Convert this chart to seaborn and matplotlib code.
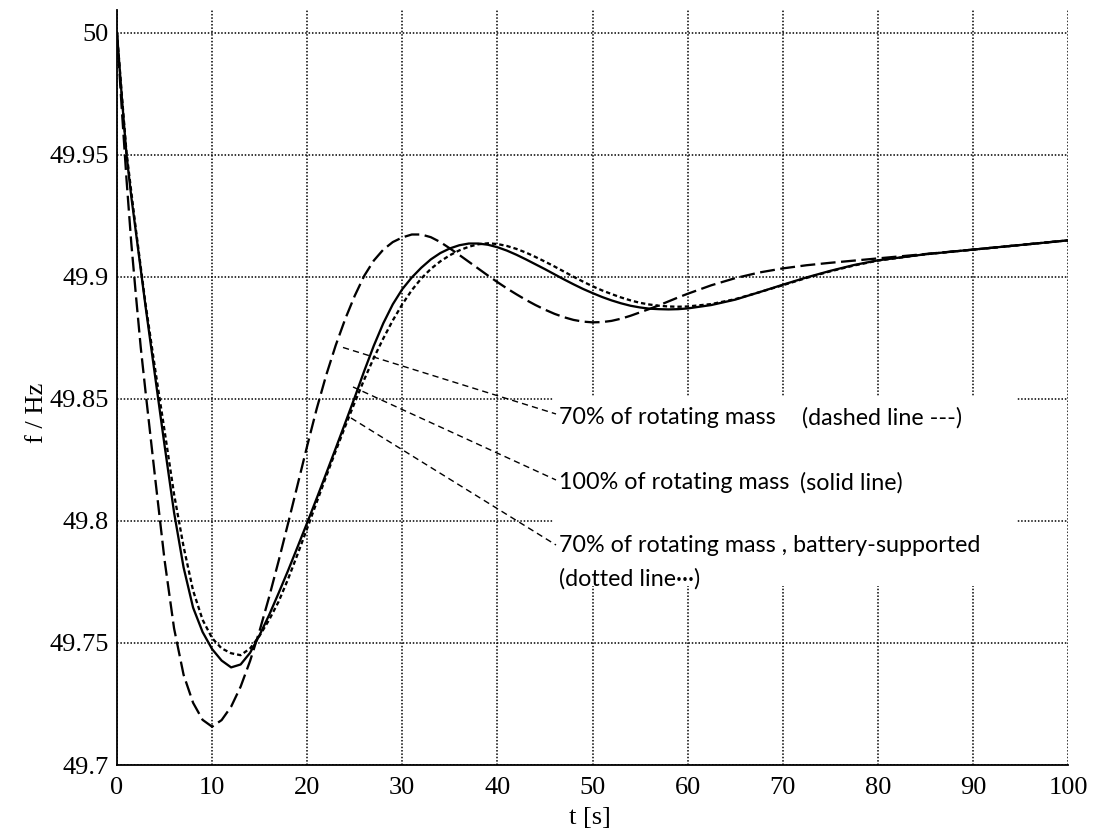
import matplotlib
matplotlib.use("Agg")
import matplotlib.pyplot as plt
import numpy as np
import pandas as pd
import seaborn as sns
from matplotlib.patches import Rectangle

# ---------------- data ----------------
t = [0, 0.5, 1, 1.5, 2, 2.5, 3, 4, 5, 6, 7, 8, 9, 10, 11, 12, 13, 14, 15, 16, 17, 18, 19, 20,
     21, 22, 23, 24, 25, 26, 27, 28, 29, 30, 31, 32, 33, 34, 35, 36, 37, 38, 39, 40,
     41, 42, 43, 44, 45, 46, 47, 48, 49, 50, 51, 52, 53, 54, 55, 56, 57, 58, 59, 60,
     62.5, 65, 67.5, 70, 72.5, 75, 77.5, 80, 85, 90, 95, 100]

f_70 = [50.000, 49.969, 49.940, 49.914, 49.892, 49.871, 49.853, 49.818, 49.784, 49.756,
        49.737, 49.7255, 49.7185, 49.7157, 49.7184, 49.7239, 49.7321, 49.7427, 49.7551, 49.7689,
        49.7837, 49.7992, 49.8150, 49.8308, 49.8460, 49.8598, 49.8720, 49.8828, 49.8923, 49.9005,
        49.9067, 49.9112, 49.9143, 49.9162, 49.9174, 49.9174, 49.9163, 49.9143, 49.9117, 49.9090,
        49.9062, 49.9034, 49.9006, 49.8979, 49.8953, 49.8929, 49.8906, 49.8885, 49.8866, 49.8849,
        49.8835, 49.8824, 49.8817, 49.8814, 49.8815, 49.8820, 49.8829, 49.8841, 49.8855, 49.8869,
        49.8884, 49.8900, 49.8916, 49.8931, 49.8966, 49.8995, 49.9018, 49.9035, 49.9048, 49.9058,
        49.9067, 49.9076, 49.9094, 49.9112, 49.9131, 49.9150]

f_100 = [50.000, 49.974, 49.950, 49.933, 49.918, 49.903, 49.888, 49.8595, 49.831, 49.8035,
         49.781, 49.7645, 49.7545, 49.7475, 49.7428, 49.7400, 49.7412, 49.7460, 49.7533, 49.7615,
         49.7705, 49.7798, 49.7895, 49.7993, 49.8093, 49.8195, 49.8298, 49.8402, 49.8507, 49.8615,
         49.8718, 49.8810, 49.8888, 49.8950, 49.8998, 49.9038, 49.9072, 49.9098, 49.9117, 49.9130,
         49.9137, 49.9137, 49.9132, 49.9122, 49.9108, 49.9091, 49.9072, 49.9052, 49.9032, 49.9011,
         49.8990, 49.8970, 49.8951, 49.8934, 49.8918, 49.8904, 49.8892, 49.8882, 49.8875, 49.8870,
         49.8868, 49.8867, 49.8868, 49.8871, 49.8885, 49.8907, 49.8937, 49.8968, 49.8998, 49.9025,
         49.9049, 49.9068, 49.9093, 49.9112, 49.9131, 49.9150]

f_70_batt = [50.000, 49.975, 49.951, 49.935, 49.919, 49.904, 49.889, 49.8625, 49.837, 49.811,
             49.7895, 49.7715, 49.7595, 49.7520, 49.7478, 49.7458, 49.7450, 49.7478, 49.7530, 49.7595,
             49.7670, 49.7763, 49.7865, 49.7970, 49.8077, 49.8183, 49.8287, 49.8388, 49.8486, 49.8580,
             49.8668, 49.8748, 49.8822, 49.8888, 49.8946, 49.8994, 49.9033, 49.9064, 49.9089, 49.9109,
             49.9124, 49.9134, 49.9138, 49.9135, 49.9127, 49.9115, 49.9100, 49.9082, 49.9063, 49.9043,
             49.9022, 49.9001, 49.8981, 49.8962, 49.8945, 49.8930, 49.8916, 49.8904, 49.8894, 49.8887,
             49.8882, 49.8879, 49.8878, 49.8879, 49.8889, 49.8909, 49.8937, 49.8966, 49.8996, 49.9023,
             49.9047, 49.9067, 49.9093, 49.9112, 49.9131, 49.9150]

series_names = ["70% of rotating mass", "100% of rotating mass",
                "70% of rotating mass, battery-supported"]

x_ticks = [0, 10, 20, 30, 40, 50, 60, 70, 80, 90, 100]
y_ticks = [49.7, 49.75, 49.8, 49.85, 49.9, 49.95, 50.0]
y_tick_labels = ["49.7", "49.75", "49.8", "49.85", "49.9", "49.95", "50"]

label_main = ["70% of rotating mass", "100% of rotating mass",
              "70% of rotating mass , battery-supported"]
label_extra = ["(dashed line ---)", "(solid line)", "(dotted line\u00b7\u00b7\u00b7)"]

# ---------------- layout / style ----------------
sns.set_style("white")
plt.rcParams["font.family"] = ["Liberation Serif", "DejaVu Serif"]

W, H = 1095, 835
fig = plt.figure(figsize=(W / 100, H / 100), dpi=100)
ax = fig.add_axes([117 / W, 1 - 765 / H, (1068 - 117) / W, (765 - 10) / H])

n = len(t)
df = pd.DataFrame({
    "t": t * 3,
    "f": f_70 + f_100 + f_70_batt,
    "series": [series_names[0]] * n + [series_names[1]] * n + [series_names[2]] * n,
})

styles = {
    series_names[0]: (0, (6.5, 2.4)),
    series_names[1]: "-",
    series_names[2]: (0, (1.9, 1.3)),
}
for name in series_names:
    sub = df[df["series"] == name]
    sns.lineplot(data=sub, x="t", y="f", ax=ax, color="black", linewidth=1.65,
                 linestyle=styles[name], errorbar=None, sort=False, zorder=3)

ax.set_xlim(0, 100)
ax.set_ylim(49.7, 50.0094)
ax.set_xticks(x_ticks)
ax.set_xticklabels([str(v) for v in x_ticks])
ax.set_yticks(y_ticks)
ax.set_yticklabels(y_tick_labels)

ax.grid(True, color="black", linestyle=(0, (1.0, 1.2)), linewidth=1.1)
ax.set_axisbelow(True)

for s in ["top", "right"]:
    ax.spines[s].set_visible(False)
for s in ["left", "bottom"]:
    ax.spines[s].set_color("black")
    ax.spines[s].set_linewidth(1.3)

ax.tick_params(axis="both", direction="in", length=5, width=1.0, colors="black",
               labelsize=19)
ax.tick_params(axis="y", pad=6)
ax.tick_params(axis="x", pad=9)

ax.set_xlabel("t [s]", fontsize=19, color="black")
ax.set_ylabel("f / Hz", fontsize=19, color="black")
ax.xaxis.set_label_coords((590 - 117) / 951, (765 - 807) / 755)
ax.yaxis.set_label_coords((48 - 117) / 951, (765 - 413) / 755)


# pixel -> data helpers for annotation placement
def px_t(px):
    return (px - 117) / 9.51


def px_f(py):
    return 50.0 - (py - 33) / 2440.0


# white box behind the annotation text
ax.add_patch(Rectangle((px_t(553), px_f(586)), px_t(1016) - px_t(553), px_f(396) - px_f(586),
                       facecolor="white", edgecolor="none", zorder=1))

# leader lines
leaders = [((343, 347.5), (556, 414)),
           ((353, 387), (556, 480)),
           ((351, 418), (556, 545))]
for (x0, y0), (x1, y1) in leaders:
    ax.plot([px_t(x0), px_t(x1)], [px_f(y0), px_f(y1)], color="black", linewidth=1.0,
            linestyle=(0, (4.5, 3)), zorder=4)

# annotation text, fitted to the reference width of the longest line
sans = ["Lato", "DejaVu Sans"]
renderer = fig.canvas.get_renderer()
probe = fig.text(0, 0, label_main[2], fontsize=10, family=sans)
w10 = probe.get_window_extent(renderer).width
probe.remove()
fs = 10 * 421 / w10

text_rows = [
    (418, label_main[0], 559, label_extra[0], 802),
    (483, label_main[1], 559, label_extra[1], 800),
    (546, label_main[2], 559, None, None),
    (579, label_extra[2], 559, None, None),
]
for py, txt, px, extra, pxe in text_rows:
    ax.text(px_t(px), px_f(py), txt, fontsize=fs, family=sans, ha="left", va="center",
            color="black", zorder=5)
    if extra:
        ax.text(px_t(pxe), px_f(py), extra, fontsize=fs, family=sans, ha="left",
                va="center", color="black", zorder=5)

if ax.get_legend() is not None:
    ax.get_legend().remove()

fig.savefig("out.png", dpi=100, facecolor="white")
